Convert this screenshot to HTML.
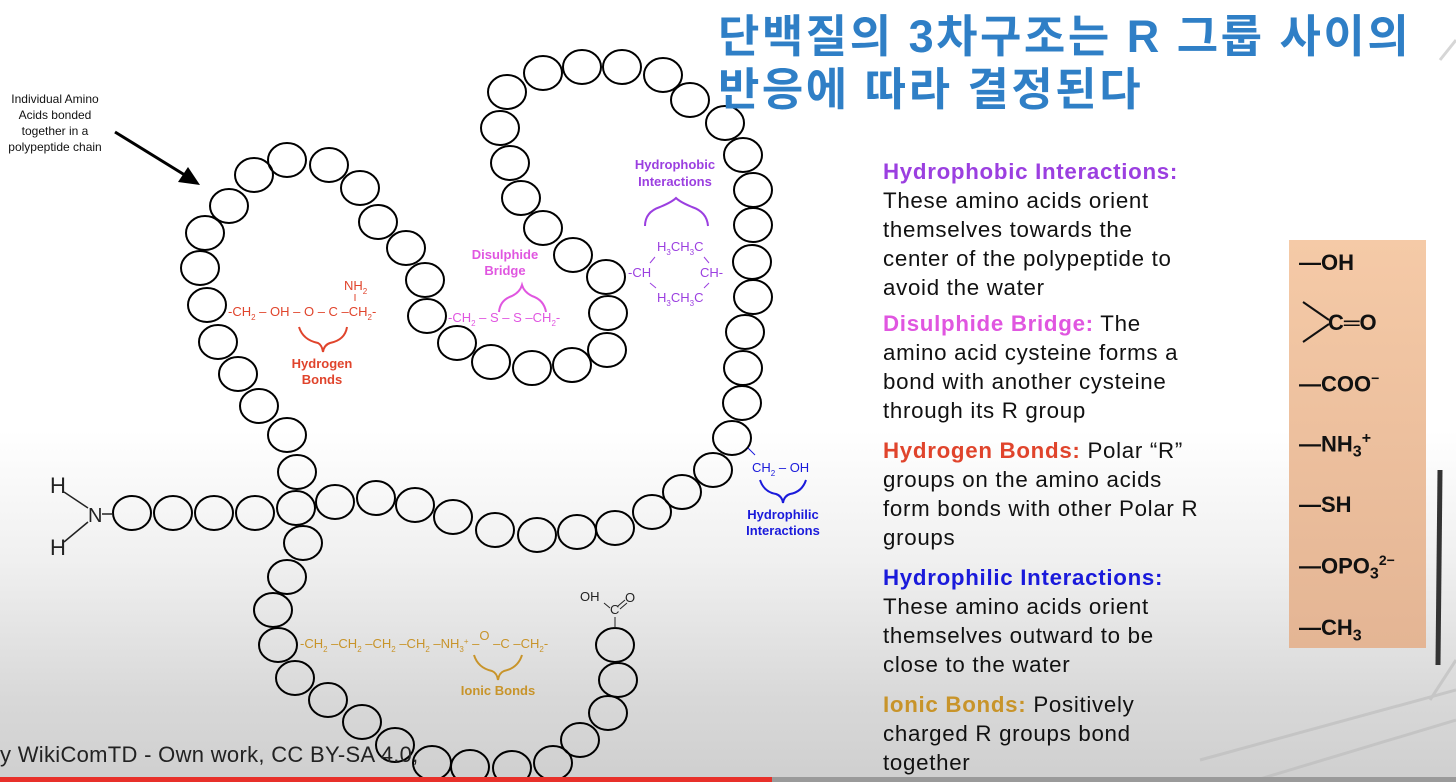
<!DOCTYPE html>
<html><head><meta charset="utf-8">
<style>
html,body{margin:0;padding:0;}
body{width:1456px;height:782px;overflow:hidden;position:relative;font-family:"Liberation Sans","Noto Sans CJK KR",sans-serif;
background:linear-gradient(180deg,#ffffff 0px,#ffffff 430px,#f0f0f0 560px,#d8d8d8 700px,#cfcfcf 782px);}
.title{position:absolute;left:718px;top:10px;font-size:45px;font-weight:bold;color:#2f7fc6;line-height:53px;font-family:"Liberation Sans","Noto Sans CJK KR",sans-serif;letter-spacing:2.5px;white-space:nowrap;}
.desc{position:absolute;left:883px;font-size:22.3px;line-height:29px;color:#111;white-space:nowrap;letter-spacing:0.7px;}
.desc b{font-weight:bold;}
.box{position:absolute;left:1289px;top:240px;width:137px;height:408px;background:linear-gradient(180deg,#f5caa7,#e4b594);}
.box div{position:absolute;left:10px;font-size:22px;font-weight:bold;color:#111;}
.credit{position:absolute;left:0;top:742px;font-size:22px;color:#222;letter-spacing:0.3px;font-family:"Liberation Sans","Noto Sans CJK KR",sans-serif;}
</style></head>
<body>
<svg width="1456" height="782" style="position:absolute;left:0;top:0">
  <g stroke="#bbb" stroke-width="3" fill="none" opacity="0.6">
    <line x1="1440" y1="60" x2="1456" y2="40"/>
    <line x1="1430" y1="700" x2="1456" y2="660"/>
    <line x1="1200" y1="760" x2="1456" y2="690"/>
    <line x1="1250" y1="782" x2="1456" y2="720"/>
  </g>
  <line x1="1440" y1="470" x2="1438" y2="665" stroke="#333" stroke-width="5"/>
  <g id="chain" fill="none" stroke="#000" stroke-width="2"></g>
  <line x1="115" y1="132" x2="188" y2="177" stroke="#000" stroke-width="3"/>
  <polygon points="200,185 178,182 188,167" fill="#000"/>
  <text x="55" y="103" font-size="12" text-anchor="middle" fill="#111">Individual Amino</text>
  <text x="55" y="119" font-size="12" text-anchor="middle" fill="#111">Acids bonded</text>
  <text x="55" y="135" font-size="12" text-anchor="middle" fill="#111">together in a</text>
  <text x="55" y="151" font-size="12" text-anchor="middle" fill="#111">polypeptide chain</text>
  <text x="50" y="493" font-size="22" fill="#222">H</text>
  <text x="88" y="522" font-size="20" fill="#222">N</text>
  <text x="50" y="555" font-size="22" fill="#222">H</text>
  <line x1="64" y1="492" x2="88" y2="508" stroke="#222" stroke-width="1.5"/>
  <line x1="64" y1="542" x2="88" y2="522" stroke="#222" stroke-width="1.5"/>
  <line x1="102" y1="514" x2="113" y2="514" stroke="#222" stroke-width="1.5"/>
  <g fill="#e0442c" font-size="13">
    <text x="228" y="316">-CH<tspan font-size="8" dy="4">2</tspan><tspan dy="-4"> – OH – O – C –CH</tspan><tspan font-size="8" dy="4">2</tspan><tspan dy="-4">-</tspan></text>
    <text x="344" y="290">NH<tspan font-size="8" dy="4">2</tspan></text>
    <line x1="355" y1="294" x2="355" y2="301" stroke="#e0442c"/>
    <path d="M299,327 Q303,340 318,343 Q322,345 323,352 Q324,345 330,343 Q345,340 347,327" fill="none" stroke="#e0442c" stroke-width="2"/>
    <text x="322" y="368" font-weight="bold" text-anchor="middle">Hydrogen</text>
    <text x="322" y="384" font-weight="bold" text-anchor="middle">Bonds</text>
  </g>
  <g fill="#e056e0" font-size="13">
    <text x="448" y="322">-CH<tspan font-size="8" dy="4">2</tspan><tspan dy="-4"> – S – S –CH</tspan><tspan font-size="8" dy="4">2</tspan><tspan dy="-4">-</tspan></text>
    <path d="M499,312 Q500,300 512,296 Q520,292 522,285 Q524,292 532,296 Q544,300 546,312" fill="none" stroke="#e056e0" stroke-width="2"/>
    <text x="505" y="259" font-weight="bold" text-anchor="middle">Disulphide</text>
    <text x="505" y="275" font-weight="bold" text-anchor="middle">Bridge</text>
  </g>
  <g fill="#9b3fe0" font-size="13">
    <text x="675" y="169" font-weight="bold" text-anchor="middle">Hydrophobic</text>
    <text x="675" y="186" font-weight="bold" text-anchor="middle">Interactions</text>
    <path d="M645,226 Q645,212 660,207 Q672,202 676,198 Q680,202 692,207 Q707,212 708,226" fill="none" stroke="#9b3fe0" stroke-width="2"/>
    <text x="657" y="251">H<tspan font-size="8" dy="4">3</tspan><tspan dy="-4">CH</tspan><tspan font-size="8" dy="4">3</tspan><tspan dy="-4">C</tspan></text>
    <text x="657" y="302">H<tspan font-size="8" dy="4">3</tspan><tspan dy="-4">CH</tspan><tspan font-size="8" dy="4">3</tspan><tspan dy="-4">C</tspan></text>
    <text x="628" y="277">-CH</text>
    <text x="700" y="277">CH-</text>
    <line x1="650" y1="263" x2="655" y2="257" stroke="#9b3fe0"/>
    <line x1="650" y1="283" x2="656" y2="288" stroke="#9b3fe0"/>
    <line x1="704" y1="257" x2="709" y2="263" stroke="#9b3fe0"/>
    <line x1="704" y1="288" x2="709" y2="283" stroke="#9b3fe0"/>
  </g>
  <g fill="#1a1adb" font-size="13">
    <line x1="748" y1="448" x2="755" y2="455" stroke="#1a1adb"/>
    <text x="752" y="472">CH<tspan font-size="8" dy="4">2</tspan><tspan dy="-4"> – OH</tspan></text>
    <path d="M760,480 Q764,492 776,494 Q782,496 783,503 Q784,496 790,494 Q802,492 806,480" fill="none" stroke="#1a1adb" stroke-width="2"/>
    <text x="783" y="519" font-weight="bold" text-anchor="middle">Hydrophilic</text>
    <text x="783" y="535" font-weight="bold" text-anchor="middle">Interactions</text>
  </g>
  <g fill="#c8942a" font-size="13">
    <text x="300" y="648">-CH<tspan font-size="8" dy="4">2</tspan><tspan dy="-4"> –CH</tspan><tspan font-size="8" dy="4">2</tspan><tspan dy="-4"> –CH</tspan><tspan font-size="8" dy="4">2</tspan><tspan dy="-4"> –CH</tspan><tspan font-size="8" dy="4">2</tspan><tspan dy="-4"> –NH</tspan><tspan font-size="8" dy="4">3</tspan><tspan font-size="8" dy="-8">+</tspan><tspan dy="4"> –</tspan><tspan dy="-8">O</tspan><tspan dy="8">  –C –CH</tspan><tspan font-size="8" dy="4">2</tspan><tspan dy="-4">-</tspan></text>
    <path d="M474,655 Q478,668 492,671 Q497,673 498,680 Q499,673 504,671 Q518,668 522,655" fill="none" stroke="#c8942a" stroke-width="2"/>
    <text x="498" y="695" font-weight="bold" text-anchor="middle">Ionic Bonds</text>
  </g>
  <g fill="#222" font-size="13">
    <text x="580" y="601">OH</text>
    <text x="610" y="614">C</text>
    <text x="625" y="602">O</text>
    <line x1="604" y1="603" x2="610" y2="608" stroke="#222"/>
    <line x1="618" y1="606" x2="625" y2="600" stroke="#222"/>
    <line x1="620" y1="609" x2="627" y2="603" stroke="#222"/>
    <line x1="615" y1="617" x2="615" y2="628" stroke="#222"/>
  </g>
  <rect x="0" y="777" width="1456" height="5" fill="#9a9a9a"/>
  <rect x="0" y="777" width="772" height="5" fill="#e8302a"/>
</svg>

<div class="title">단백질의 3차구조는 R 그룹 사이의<br>반응에 따라 결정된다</div>

<div class="desc" style="top:157px"><b style="color:#9b3fe0">Hydrophobic Interactions:</b><br>These amino acids orient<br>themselves towards the<br>center of the polypeptide to<br>avoid the water</div>
<div class="desc" style="top:309px"><b style="color:#e056e0">Disulphide Bridge:</b> The<br>amino acid cysteine forms a<br>bond with another cysteine<br>through its R group</div>
<div class="desc" style="top:436px"><b style="color:#e0442c">Hydrogen Bonds:</b> Polar “R”<br>groups on the amino acids<br>form bonds with other Polar R<br>groups</div>
<div class="desc" style="top:563px"><b style="color:#1a1adb">Hydrophilic Interactions:</b><br>These amino acids orient<br>themselves outward to be<br>close to the water</div>
<div class="desc" style="top:690px"><b style="color:#c8942a">Ionic Bonds:</b> Positively<br>charged R groups bond<br>together</div>

<div class="box">
  <div style="top:10px">—OH</div>
  <div style="top:70px;left:39px">C═O</div>
  <svg style="position:absolute;left:12px;top:60px" width="30" height="45"><line x1="2" y1="2" x2="28" y2="20" stroke="#111" stroke-width="2"/><line x1="2" y1="42" x2="28" y2="24" stroke="#111" stroke-width="2"/></svg>
  <div style="top:130px">—COO<sup style="font-size:14px">−</sup></div>
  <div style="top:190px">—NH<sub style="font-size:16px">3</sub><sup style="font-size:16px">+</sup></div>
  <div style="top:252px">—SH</div>
  <div style="top:312px">—OPO<sub style="font-size:16px">3</sub><sup style="font-size:14px">2−</sup></div>
  <div style="top:375px">—CH<sub style="font-size:16px">3</sub></div>
</div>

<div class="credit">y WikiComTD - Own work, CC BY-SA 4.0,</div>

<script>
const beadsX=[132,173,214,255,296,335,376,415,453,495,537,577,615,652,682,713,732,742,743,745,753,752,753,753,743,725,690,663,622,582,543,507,500,510,521,543,573,606,608,607,572,532,491,457,427,425,406,378,360,329,287,254,229,205,200,207,218,238,259,287,297,303,287,273,278,295,328,362,395,432,470,512,553,580,608,618,615];
const beadsY=[513,513,513,513,508,502,498,505,517,530,535,532,528,512,492,470,438,403,368,332,297,262,225,190,155,123,100,75,67,67,73,92,128,163,198,228,255,277,313,350,365,368,362,343,316,280,248,222,188,165,160,175,206,233,268,305,342,374,406,435,472,543,577,610,645,678,700,722,745,763,767,768,763,740,713,680,645];
const g=document.getElementById('chain');
for(let i=0;i<beadsX.length;i++){
  const e=document.createElementNS('http://www.w3.org/2000/svg','ellipse');
  
  
  e.setAttribute('cx',beadsX[i]);e.setAttribute('cy',beadsY[i]);
  e.setAttribute('rx',19);e.setAttribute('ry',17);
  g.appendChild(e);
}
</script>
</body></html>
